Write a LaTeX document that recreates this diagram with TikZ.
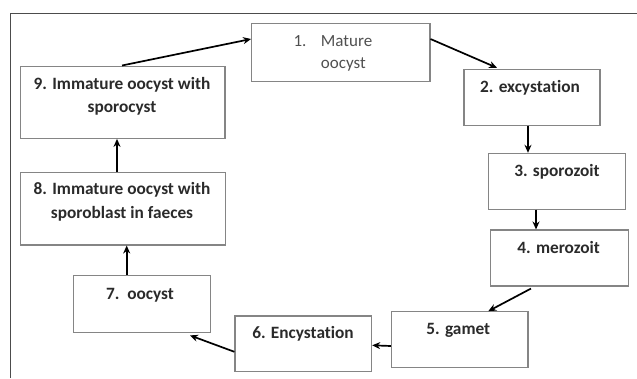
\documentclass[tikz,border=0pt]{standalone}
\usepackage{fontspec}
\setmainfont[Ligatures=CommonOff]{Carlito}
\usetikzlibrary{arrows.meta}
\definecolor{boxline}{HTML}{858585}
\definecolor{txt}{HTML}{2a2a2a}
\definecolor{txtlight}{HTML}{505050}
\tikzset{
  stagebox/.style={draw=boxline, line width=1.1pt, minimum width=#1, inner sep=0pt},
  lbl/.style={anchor=base, text=txt, font=\fontsize{17.3}{23.5}\selectfont\bfseries, align=center, inner sep=0pt},
  plain/.style={anchor=base west, inner sep=0pt, text=txtlight, font=\fontsize{17}{23}\selectfont},
  flow/.style={draw=black, line width=1.7pt, -{Stealth[length=8pt,width=7pt]}},
}
\begin{document}
\begin{tikzpicture}[x=1pt,y=-1pt]
\useasboundingbox (0,0) rectangle (637,378);
% frame
\draw[draw=black!70, line width=1pt] (10,378) -- (10,13.5) -- (637,13.5);
% boxes
\node[stagebox=178.3pt, minimum height=58.4pt] (b1) at (340.8,52.5) {};
\node[stagebox=136pt, minimum height=55.7pt] (b2) at (532,97.2) {};
\node[stagebox=137.4pt, minimum height=55.7pt] (b3) at (557,181.2) {};
\node[stagebox=137.6pt, minimum height=56pt] (b4) at (559.5,258) {};
\node[stagebox=136.5pt, minimum height=55.6pt] (b5) at (459.7,339.5) {};
\node[stagebox=136.7pt, minimum height=55.7pt] (b6) at (303.3,343.8) {};
\node[stagebox=137.4pt, minimum height=57.3pt] (b7) at (142,303.7) {};
\node[stagebox=204.6pt, minimum height=72.3pt] (b8) at (123,208.8) {};
\node[stagebox=204.3pt, minimum height=72.3pt] (b9) at (122.8,102.2) {};
% texts
\node[plain] (t1a) at (293.3,46) {1.};
\node[plain] (t1b) at (320.7,46) {Mature};
\node[plain] (t1c) at (320.7,68.5) {oocyst};
\node[lbl] (t2) at (530,92) {2. excystation};
\node[lbl] (t3) at (557,176.5) {3. sporozoit};
\node[lbl] (t4) at (558.7,253.5) {4. merozoit};
\node[lbl] (t5) at (458.3,334.5) {5. gamet};
\node[lbl] (t6) at (303,338.5) {6. Encystation};
\node[lbl] (t7) at (140,299.5) {7.\ \ oocyst};
\node[lbl] (t8) at (122,218) {8. Immature oocyst with\\sporoblast in faeces};
\node[lbl] (t9) at (122,112.5) {9. Immature oocyst with\\sporocyst};
% connectors
\draw[flow] ([xshift=-0.8pt]b9.north) -- ([yshift=13.5pt]b1.west);
\draw[flow] ([yshift=13.5pt]b1.east) -- ([xshift=-35pt,yshift=1pt]b2.north);
\draw[flow] ([xshift=-4pt]b2.south) -- ([xshift=-4pt]b2.south |- b3.north);
\draw[flow] ([xshift=-21pt]b3.south) -- ([xshift=-21pt]b3.south |- b4.north);
\draw[flow] ([xshift=-28.5pt,yshift=-2pt]b4.south) -- ([xshift=28.6pt]b5.north);
\draw[flow] ([yshift=-6.5pt]b5.west) -- ([yshift=-1.5pt]b6.east);
\draw[flow] ([yshift=-8pt]b6.west) -- ([xshift=48pt,yshift=-2.5pt]b7.south);
\draw[flow] ([xshift=-15.3pt]b7.north) -- ([xshift=-15.3pt]b7.north |- b8.south);
\draw[flow] ([xshift=-6pt]b8.north) -- ([xshift=-6pt]b8.north |- b9.south);
\end{tikzpicture}
\end{document}
